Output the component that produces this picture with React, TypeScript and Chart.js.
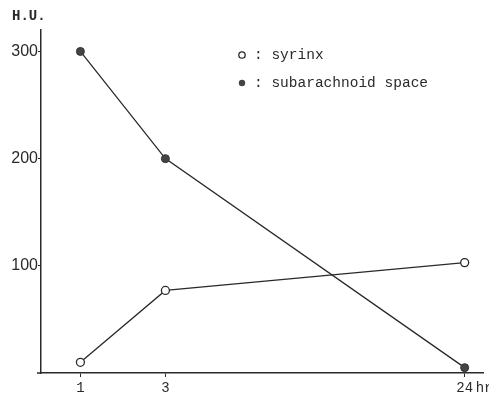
import React, { useEffect, useRef } from 'react';
import { Chart, registerables, LinearScale } from 'chart.js';

// ---- data ----
const hours: number[] = [1, 3, 24];
const hourTickLabels: string[] = ['1', '3', '24'];
const syrinx: number[] = [10, 77, 103];
const subarachnoid: number[] = [300, 200, 5];
const yTicks: number[] = [100, 200, 300];

// schematic (non-uniform) time axis: where each labelled hour sits along the axis
const axisAnchors: number[] = [0.089, 0.281, 0.957];

function hourToDecimal(v: number): number {
  const H = hours, D = axisAnchors;
  let i = 0;
  if (v <= H[0]) i = 0;
  else if (v >= H[H.length - 1]) i = H.length - 2;
  else {
    for (let k = 0; k < H.length - 1; k++) if (v >= H[k] && v <= H[k + 1]) { i = k; break; }
  }
  const t = (v - H[i]) / (H[i + 1] - H[i]);
  return D[i] + t * (D[i + 1] - D[i]);
}
function decimalToHour(d: number): number {
  const H = hours, D = axisAnchors;
  let i = 0;
  if (d <= D[0]) i = 0;
  else if (d >= D[D.length - 1]) i = D.length - 2;
  else {
    for (let k = 0; k < D.length - 1; k++) if (d >= D[k] && d <= D[k + 1]) { i = k; break; }
  }
  const t = (d - D[i]) / (D[i + 1] - D[i]);
  return H[i] + t * (H[i + 1] - H[i]);
}

class BrokenTimeScale extends LinearScale {
  static id = 'brokenTime';
  static defaults = LinearScale.defaults;
  getPixelForValue(value: number) {
    return this.getPixelForDecimal(hourToDecimal(value));
  }
  getValueForPixel(pixel: number) {
    return decimalToHour(this.getDecimalForPixel(pixel));
  }
}

Chart.register(...registerables, BrokenTimeScale);

const INK = '#2a2a2a';
const MONO = '"Liberation Mono", "DejaVu Sans Mono", monospace';

const annotations = {
  id: 'annotations',
  afterDraw(chart: any) {
    const ctx = chart.ctx;
    const { left, bottom } = chart.chartArea;
    ctx.save();
    // extend x axis slightly left of y axis
    ctx.strokeStyle = INK;
    ctx.lineWidth = 1.5;
    ctx.beginPath();
    ctx.moveTo(left - 4, bottom);
    ctx.lineTo(left, bottom);
    ctx.stroke();

    ctx.fillStyle = INK;
    ctx.font = `bold 14px ${MONO}`;
    ctx.textBaseline = 'alphabetic';
    ctx.textAlign = 'left';
    ctx.fillText('H.U.', 12, 20);

    // "hr" unit after last tick
    const xs = chart.scales.x;
    const px24 = xs.getPixelForValue(hours[hours.length - 1]);
    ctx.font = `14px ${MONO}`;
    ctx.textBaseline = 'middle';
    ctx.fillText('hr', px24 + 11, 388);

    // legend
    const rows = [
      { y: 55, filled: false, text: ': syrinx' },
      { y: 83, filled: true, text: ': subarachnoid space' },
    ];
    rows.forEach((r) => {
      ctx.beginPath();
      ctx.arc(242, r.y, 3.2, 0, Math.PI * 2);
      if (r.filled) {
        ctx.fillStyle = '#444';
        ctx.fill();
      } else {
        ctx.fillStyle = '#fff';
        ctx.fill();
        ctx.lineWidth = 1.3;
        ctx.strokeStyle = INK;
        ctx.stroke();
      }
      ctx.fillStyle = INK;
      ctx.font = `14.5px ${MONO}`;
      ctx.textBaseline = 'middle';
      ctx.fillText(r.text, 254, r.y);
    });
    ctx.restore();
  },
};

export default function App() {
  const ref = useRef<HTMLCanvasElement | null>(null);
  useEffect(() => {
    document.body.style.margin = '0';
    const canvas = ref.current;
    if (!canvas) return;
    const chart = new Chart(canvas, {
      type: 'line',
      data: {
        datasets: [
          {
            label: 'syrinx',
            data: hours.map((h, i) => ({ x: h, y: syrinx[i] })),
            borderColor: INK,
            borderWidth: 1.3,
            pointRadius: 4,
            pointBorderWidth: 1.3,
            pointBackgroundColor: '#fff',
            pointBorderColor: INK,
            tension: 0,
          },
          {
            label: 'subarachnoid space',
            data: hours.map((h, i) => ({ x: h, y: subarachnoid[i] })),
            borderColor: INK,
            borderWidth: 1.3,
            pointRadius: 4,
            pointBorderWidth: 1,
            pointBackgroundColor: '#444',
            pointBorderColor: '#333',
            tension: 0,
          },
        ],
      },
      options: {
        responsive: false,
        animation: false,
        devicePixelRatio: 1,
        layout: { padding: { top: 30, right: 3, left: 0, bottom: 0 } },
        plugins: { legend: { display: false }, tooltip: { enabled: false } },
        scales: {
          x: {
            type: 'brokenTime' as any,
            min: 0,
            max: 25,
            afterBuildTicks: (s: any) => {
              s.ticks = hours.map((h) => ({ value: h }));
            },
            afterFit: (s: any) => {
              s.height = 26;
            },
            border: { display: true, color: INK, width: 1.5 },
            grid: { drawOnChartArea: false, tickLength: 4, color: INK },
            ticks: {
              color: INK,
              font: { family: MONO, size: 14 },
              padding: 3,
              maxRotation: 0,
              autoSkip: false,
              callback: (v: any) => {
                const i = hours.indexOf(Number(v));
                return i >= 0 ? hourTickLabels[i] : '';
              },
            },
          } as any,
          y: {
            type: 'linear',
            min: 0,
            max: 320,
            afterBuildTicks: (s: any) => {
              s.ticks = yTicks.map((v) => ({ value: v }));
            },
            afterFit: (s: any) => {
              s.width = 41;
            },
            border: { display: true, color: INK, width: 1.5 },
            grid: { drawOnChartArea: false, tickLength: 3, color: INK },
            ticks: {
              color: INK,
              font: { family: '"Liberation Sans", Arial, sans-serif', size: 16 },
              padding: 0,
            },
          },
        },
      },
      plugins: [annotations],
    });
    return () => chart.destroy();
  }, []);
  return (
    <div style={{ position: 'absolute', left: 0, top: 0, width: 489, height: 399 }}>
      <canvas ref={ref} width={489} height={399} style={{ width: 489, height: 399 }} />
    </div>
  );
}
